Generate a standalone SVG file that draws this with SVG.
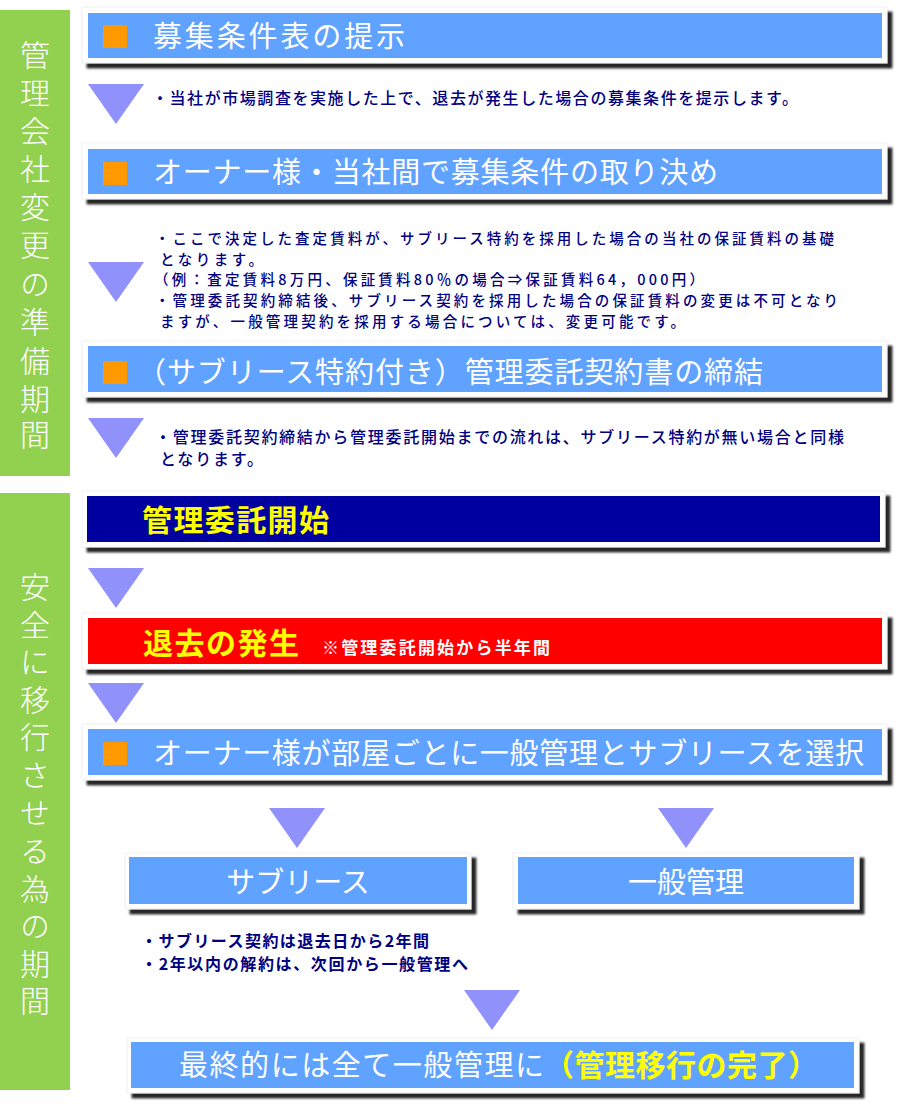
<svg xmlns="http://www.w3.org/2000/svg" width="900" height="1112" viewBox="0 0 900 1112">
<defs>
<filter id="sh" x="-5%" y="-20%" width="115%" height="160%">
<feDropShadow dx="5" dy="5" stdDeviation="1.3" flood-color="#000" flood-opacity="0.85"/>
</filter>
<style>
.frame{fill:#fff;stroke:#ececec;stroke-width:0.8;filter:url(#sh)}
.blue{fill:#5fa2ff}
.sq{fill:#ff9900}
.arrow{fill:#9191fc}
.side{fill:#92d050}
.sidet{font-family:"Noto Sans CJK JP","Noto Sans CJK SC",sans-serif;font-size:30px;fill:#fff;writing-mode:vertical-rl;font-weight:300}
.title{font-family:"Noto Sans CJK JP","Noto Sans CJK SC",sans-serif;font-size:29px;fill:#fff}
.ytitle{font-family:"Noto Sans CJK JP","Noto Sans CJK SC",sans-serif;font-size:30px;fill:#ffff00;font-weight:bold}
.note{font-family:"Noto Sans CJK JP","Noto Sans CJK SC",sans-serif;font-size:16px;fill:#000080;font-weight:500}
.note2{font-family:"Noto Sans CJK JP","Noto Sans CJK SC",sans-serif;font-size:14.5px;fill:#000080;font-weight:500}
.noteb{font-family:"Noto Sans CJK JP","Noto Sans CJK SC",sans-serif;font-size:16px;fill:#000080;font-weight:bold}
.ctr{text-anchor:middle}
</style>
</defs>
<rect width="900" height="1112" fill="#fff"/>

<g id="side1">
<rect class="side" x="0" y="10" width="70" height="466"/>
<text class="sidet" x="35" y="40">管</text>
<text class="sidet" x="35" y="78">理</text>
<text class="sidet" x="35" y="116">会</text>
<text class="sidet" x="35" y="154">社</text>
<text class="sidet" x="35" y="192">変</text>
<text class="sidet" x="35" y="230">更</text>
<text class="sidet" x="35" y="269">の</text>
<text class="sidet" x="35" y="307">準</text>
<text class="sidet" x="35" y="346">備</text>
<text class="sidet" x="35" y="384">期</text>
<text class="sidet" x="35" y="420">間</text>
</g>

<g id="side2">
<rect class="side" x="0" y="493" width="70" height="597"/>
<text class="sidet" x="35" y="572">安</text>
<text class="sidet" x="35" y="610">全</text>
<text class="sidet" x="35" y="647">に</text>
<text class="sidet" x="35" y="685">移</text>
<text class="sidet" x="35" y="722">行</text>
<text class="sidet" x="35" y="760">さ</text>
<text class="sidet" x="35" y="798">せ</text>
<text class="sidet" x="35" y="836">る</text>
<text class="sidet" x="35" y="874">為</text>
<text class="sidet" x="35" y="911">の</text>
<text class="sidet" x="35" y="949">期</text>
<text class="sidet" x="35" y="986">間</text>
</g>

<g id="connectors">
<polygon class="arrow" points="88,84 144,84 116,124"/>
<polygon class="arrow" points="88,262 144,262 116,302"/>
<polygon class="arrow" points="88,418 144,418 116,458"/>
<polygon class="arrow" points="88,568 144,568 116,608"/>
<polygon class="arrow" points="88,683 144,683 116,723"/>
<polygon class="arrow" points="269,808 325,808 297,848"/>
<polygon class="arrow" points="658,808 714,808 686,848"/>
<polygon class="arrow" points="464,990 520,990 492,1030"/>
</g>

<g id="step1">
<rect class="frame" x="82" y="7" width="805" height="56"/>
<rect class="blue" x="88" y="13" width="794" height="45"/>
<rect class="sq" x="103" y="25" width="24" height="23"/>
<text class="title" x="153" y="47" textLength="252">募集条件表の提示</text>
</g>

<g id="note1">
<text class="note" x="152" y="104" textLength="646">・当社が市場調査を実施した上で、退去が発生した場合の募集条件を提示します。</text>
</g>

<g id="step2">
<rect class="frame" x="82" y="143" width="805" height="56"/>
<rect class="blue" x="88" y="149" width="794" height="45"/>
<rect class="sq" x="103" y="162" width="24" height="23"/>
<text class="title" x="153" y="183" textLength="565">オーナー様・当社間で募集条件の取り決め</text>
</g>

<g id="note2">
<text class="note2" x="155" y="244" textLength="679">・ここで決定した査定賃料が、サブリース特約を採用した場合の当社の保証賃料の基礎</text>
<text class="note2" x="160" y="265" textLength="103">となります。</text>
<text class="note2" x="154" y="285" textLength="550">（例：査定賃料8万円、保証賃料80％の場合⇒保証賃料64，000円）</text>
<text class="note2" x="155" y="306" textLength="683">・管理委託契約締結後、サブリース契約を採用した場合の保証賃料の変更は不可となり</text>
<text class="note2" x="160" y="327" textLength="525">ますが、一般管理契約を採用する場合については、変更可能です。</text>
</g>

<g id="step3">
<rect class="frame" x="82" y="341" width="805" height="56"/>
<rect class="blue" x="88" y="346" width="794" height="46"/>
<rect class="sq" x="103" y="361" width="24" height="23"/>
<text class="title" x="137" y="383" textLength="626">（サブリース特約付き）管理委託契約書の締結</text>
</g>

<g id="note3">
<text class="note" x="155" y="443" textLength="689">・管理委託契約締結から管理委託開始までの流れは、サブリース特約が無い場合と同様</text>
<text class="note" x="160" y="465" textLength="103">となります。</text>
</g>

<g id="step4">
<rect class="frame" x="82" y="491" width="803" height="56"/>
<rect x="87" y="496" width="793" height="46" fill="#0000a0"/>
<text class="ytitle" x="142" y="531" textLength="187">管理委託開始</text>
</g>

<g id="step5">
<rect class="frame" x="82" y="613" width="805" height="56"/>
<rect x="88" y="618" width="794" height="46" fill="#ff0000"/>
<text class="ytitle" x="143" y="654" textLength="156">退去の発生</text>
<text x="322" y="654" textLength="228" font-family="Noto Sans CJK JP, Noto Sans CJK SC, sans-serif" font-size="17" font-weight="bold" fill="#fff">※管理委託開始から半年間</text>
</g>

<g id="step6">
<rect class="frame" x="82" y="724" width="805" height="56"/>
<rect class="blue" x="88" y="729" width="794" height="46"/>
<rect class="sq" x="103" y="742" width="24" height="23"/>
<text class="title" x="153" y="764" textLength="711">オーナー様が部屋ごとに一般管理とサブリースを選択</text>
</g>

<g id="sublease">
<rect class="frame" x="125" y="853" width="346" height="56"/>
<rect class="blue" x="129" y="857" width="338" height="47"/>
<text class="title ctr" x="298" y="893">サブリース</text>
</g>

<g id="general">
<rect class="frame" x="513" y="853" width="346" height="56"/>
<rect class="blue" x="518" y="857" width="336" height="47"/>
<text class="title ctr" x="686" y="893" font-size="30">一般管理</text>
</g>

<g id="note4">
<text class="noteb" x="141" y="947" textLength="288">・サブリース契約は退去日から2年間</text>
<text class="noteb" x="141" y="970" textLength="327">・2年以内の解約は、次回から一般管理へ</text>
</g>

<g id="final">
<rect class="frame" x="127" y="1038" width="732" height="55"/>
<rect class="blue" x="131" y="1042" width="723" height="46"/>
<text class="title" x="179" y="1076" font-size="30" textLength="365">最終的には全て一般管理に</text>
<text class="ytitle" x="544" y="1076" textLength="274">（管理移行の完了）</text>
</g>
</svg>
